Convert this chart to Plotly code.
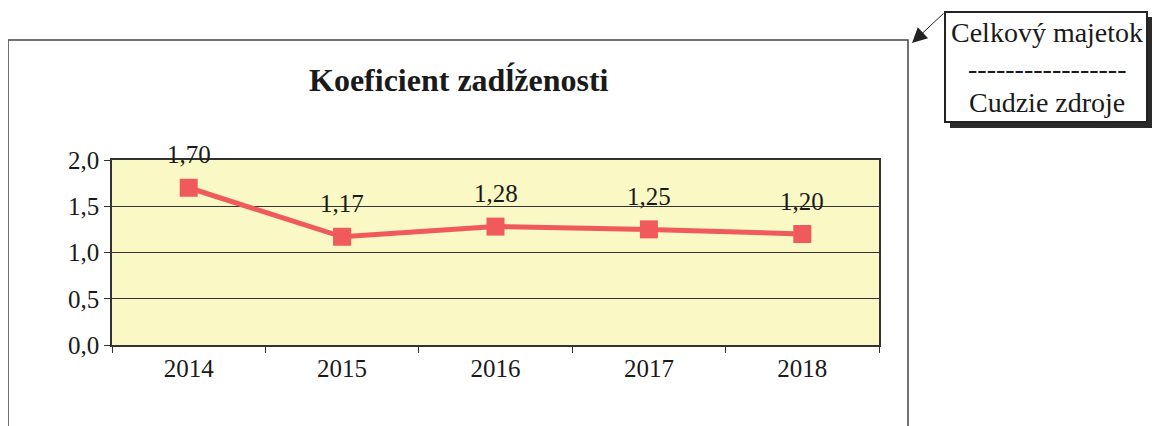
import plotly.graph_objects as go

years = ["2014", "2015", "2016", "2017", "2018"]
values = [1.70, 1.17, 1.28, 1.25, 1.20]
y_ticks = [0.0, 0.5, 1.0, 1.5, 2.0]
title_text = "Koeficient zadĺženosti"
legend_lines = ["Celkový majetok", "-----------------", "Cudzie zdroje"]

O = 8  # page body margin offset
W, H = 1167 - O, 426 - O
L, R, T, B = 112 - O, 879 - O, 160 - O, 345 - O
FONT = "Liberation Serif, Times New Roman, serif"


def px(x):
    return (x - O - L) / (R - L)


def py(y):
    return (B - (y - O)) / (B - T)


fig = go.Figure()
fig.add_trace(go.Scatter(
    x=years, y=values, mode="lines+markers",
    line=dict(color="#F05A5C", width=5),
    marker=dict(symbol="square", size=18, color="#F05A5C"),
    showlegend=False, hoverinfo="skip",
))

for i, v in enumerate(values):
    fig.add_annotation(x=i, y=v, text=f"{v:.2f}".replace(".", ","),
                       showarrow=False, yshift=33, xanchor="center",
                       font=dict(family=FONT, size=25, color="#1a1a1a"))

shapes = []
# outer chart frame
shapes.append(dict(type="rect", xref="paper", yref="paper",
                   x0=px(8), x1=px(908), y0=py(440), y1=py(40),
                   line=dict(color="#444", width=1.5), layer="below"))
# callout box shadow and box
shapes.append(dict(type="rect", xref="paper", yref="paper",
                   x0=px(950), x1=px(1152), y0=py(128), y1=py(17),
                   line=dict(width=0), fillcolor="#2a2a2a"))
shapes.append(dict(type="rect", xref="paper", yref="paper",
                   x0=px(945), x1=px(1147), y0=py(122), y1=py(12),
                   line=dict(color="#222", width=2), fillcolor="white"))
fig.update_layout(shapes=shapes)

# arrow from callout to frame corner
fig.add_annotation(xref="paper", yref="paper", x=px(912), y=py(43),
                   ax=945 - 912, ay=12 - 43,
                   text="", showarrow=True, arrowhead=2, arrowsize=3,
                   arrowwidth=1, arrowcolor="#222")

for i, t in enumerate(legend_lines):
    fig.add_annotation(xref="paper", yref="paper", x=px(1047), y=py([33, 68, 102][i]),
                       text=t, showarrow=False, xanchor="center", yanchor="middle",
                       font=dict(family=FONT, size=28, color="#1a1a1a"))

fig.add_annotation(xref="paper", yref="paper", x=px(459), y=py(80),
                   text=f"<b>{title_text}</b>", showarrow=False,
                   xanchor="center", yanchor="middle",
                   font=dict(family=FONT, size=32, color="#1a1a1a"))

fig.update_layout(
    width=W, height=H,
    margin=dict(l=L, r=W - R, t=T, b=H - B, pad=0),
    paper_bgcolor="white", plot_bgcolor="#FAF8C4",
    separators=", ",
    font=dict(family=FONT, size=25, color="#1a1a1a"),
    xaxis=dict(type="category", range=[-0.5, 4.5], tickson="boundaries",
               ticks="outside", ticklen=6, tickcolor="#333",
               showline=True, linecolor="#333", linewidth=1.5, mirror=True,
               showgrid=False, tickfont=dict(family=FONT, size=25),
               fixedrange=True),
    yaxis=dict(range=[0, 2], tickvals=y_ticks, tickformat=".1f",
               ticks="outside", ticklen=6, tickcolor="#333",
               showline=True, linecolor="#333", linewidth=1.5, mirror=True,
               showgrid=True, gridcolor="#333", gridwidth=1, zeroline=False,
               tickfont=dict(family=FONT, size=25), fixedrange=True),
)

fig.write_html("out.html")
